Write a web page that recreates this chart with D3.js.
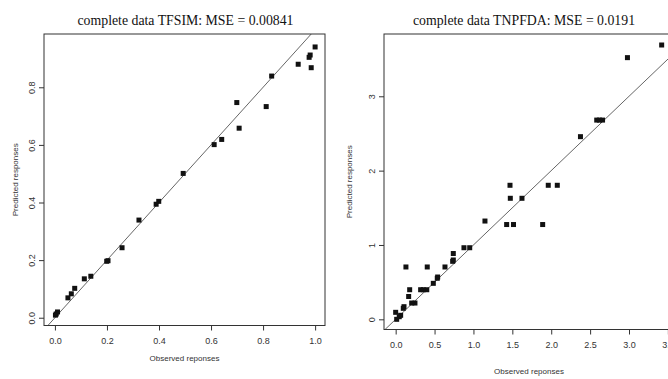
<!DOCTYPE html>
<html>
<head>
<meta charset="utf-8">
<script src="https://cdn.jsdelivr.net/npm/d3@7"></script>
<style>
  body { margin: 0; background: #fff; }
  svg { display: block; }
  .title { font-family: "Liberation Serif", "Times New Roman", serif; font-size: 13.8px; fill: #111; }
  .tick-label { font-family: "Liberation Sans", Arial, sans-serif; font-size: 9px; fill: #333; }
  .axis-title { font-family: "Liberation Sans", Arial, sans-serif; font-size: 8px; fill: #333; }
</style>
</head>
<body>
<svg id="container"></svg>
<script>
// Two observed vs predicted scatter plots, R base-graphics look

// Left panel: TFSIM
var tfsimObserved = [1.0, 0.981, 0.977, 0.985, 0.935, 0.833, 0.699, 0.812, 0.708, 0.641, 0.612, 0.493,
                     0.399, 0.389, 0.323, 0.258, 0.199, 0.204, 0.138, 0.113, 0.076, 0.063, 0.050,
                     0.010, 0.005, 0.002];
var tfsimPredicted = [0.940, 0.912, 0.904, 0.868, 0.880, 0.839, 0.747, 0.733, 0.658, 0.619, 0.601, 0.501,
                      0.404, 0.394, 0.339, 0.243, 0.196, 0.198, 0.144, 0.135, 0.102, 0.083, 0.069,
                      0.020, 0.013, 0.009];
var tfsimXTicks = [0, 0.2, 0.4, 0.6, 0.8, 1.0];
var tfsimYTicks = [0, 0.2, 0.4, 0.6, 0.8];

// Right panel: TNPFDA
var tnpfdaObserved = [3.42, 2.98, 2.585, 2.62, 2.66, 2.376, 1.47, 1.962, 2.078, 1.474, 1.624, 1.148,
                      1.427, 1.515, 1.89, 0.878, 0.952, 0.741, 0.741, 0.733, 0.634, 0.406, 0.132,
                      0.54, 0.535, 0.484, 0.40, 0.355, 0.321, 0.18, 0.167, 0.248, 0.206, 0.107,
                      0.098, 0.0, 0.064, 0.046, 0.013];
var tnpfdaPredicted = [3.69, 3.52, 2.68, 2.68, 2.68, 2.457, 1.803, 1.803, 1.803, 1.628, 1.628, 1.322,
                       1.275, 1.275, 1.275, 0.963, 0.963, 0.885, 0.798, 0.780, 0.704, 0.704, 0.704,
                       0.569, 0.552, 0.484, 0.398, 0.398, 0.398, 0.398, 0.307, 0.219, 0.219, 0.170,
                       0.148, 0.094, 0.054, 0.035, 0.0];
var tnpfdaXTicks = [0, 0.5, 1.0, 1.5, 2.0, 2.5, 3.0, 3.5];
var tnpfdaYTicks = [0, 1, 2, 3];

var width = 668, height = 379
  , pointSize = 5
  , tickLength = 5
  , container
  ;

container = d3.select("#container")
              .attr("width", width)
              .attr("height", height);

// Draw one panel. box = [left, top, right, bottom] in pixels, domains in data units
function drawPanel (opts) {
  var x = d3.scaleLinear().domain(opts.xDomain).range([opts.box[0], opts.box[2]])
    , y = d3.scaleLinear().domain(opts.yDomain).range([opts.box[3], opts.box[1]])
    , g = container.append("g")
    , clipId = "clip-" + opts.id
    ;

  g.append("clipPath").attr("id", clipId)
   .append("rect")
   .attr("x", opts.box[0]).attr("y", opts.box[1])
   .attr("width", opts.box[2] - opts.box[0])
   .attr("height", opts.box[3] - opts.box[1]);

  // Reference line y = x
  var lo = Math.min(opts.xDomain[0], opts.yDomain[0]) - 1
    , hi = Math.max(opts.xDomain[1], opts.yDomain[1]) + 1;
  g.append("line")
   .attr("clip-path", "url(#" + clipId + ")")
   .attr("x1", x(lo)).attr("y1", y(lo))
   .attr("x2", x(hi)).attr("y2", y(hi))
   .attr("stroke", "#666")
   .attr("stroke-width", 1);

  // Points (pch = 15)
  g.selectAll("rect.pt")
   .data(opts.observed)
   .enter()
   .append("rect")
   .attr("class", "pt")
   .attr("x", function (d) { return x(d) - pointSize / 2; })
   .attr("y", function (d, i) { return y(opts.predicted[i]) - pointSize / 2; })
   .attr("width", pointSize)
   .attr("height", pointSize)
   .attr("fill", "#111");

  // Box
  g.append("rect")
   .attr("x", opts.box[0]).attr("y", opts.box[1])
   .attr("width", opts.box[2] - opts.box[0])
   .attr("height", opts.box[3] - opts.box[1])
   .attr("fill", "none")
   .attr("stroke", "#333")
   .attr("stroke-width", 1);

  // Axes
  var xAxis = d3.axisBottom(x).tickValues(opts.xTicks).tickSize(tickLength).tickPadding(7)
                .tickFormat(opts.xFormat)
    , yAxis = d3.axisLeft(y).tickValues(opts.yTicks).tickSize(tickLength).tickPadding(7)
                .tickFormat(opts.yFormat);

  var gx = g.append("g").attr("transform", "translate(0," + opts.box[3] + ")").call(xAxis);
  gx.select(".domain").remove();
  gx.selectAll("line").attr("stroke", "#333");
  gx.selectAll("text").attr("class", "tick-label").attr("fill", null);

  var gy = g.append("g").attr("transform", "translate(" + opts.box[0] + ",0)").call(yAxis);
  gy.select(".domain").remove();
  gy.selectAll("line").attr("stroke", "#333");
  gy.selectAll("text")
    .attr("class", "tick-label")
    .attr("fill", null)
    .attr("x", null).attr("dy", null)
    .attr("text-anchor", "middle")
    .attr("transform", "translate(" + (-opts.yLabelOffset) + ",0) rotate(-90)")
    .attr("dominant-baseline", "central");

  // Titles
  g.append("text")
   .attr("class", "title")
   .attr("x", opts.titleX).attr("y", 25)
   .attr("text-anchor", "middle")
   .text(opts.title);

  g.append("text")
   .attr("class", "axis-title")
   .attr("x", opts.xTitleX).attr("y", opts.xTitleY)
   .attr("text-anchor", "middle")
   .text("Observed reponses");

  g.append("text")
   .attr("class", "axis-title")
   .attr("text-anchor", "middle")
   .attr("transform", "translate(" + opts.yTitleX + "," + (opts.box[1] + opts.box[3]) / 2 + ") rotate(-90)")
   .text("Predicted responses");
}

drawPanel({
  id: "tfsim",
  box: [44, 34, 325, 325.5],
  xDomain: [-0.042, 1.038],
  yDomain: [-0.027, 0.985],
  observed: tfsimObserved,
  predicted: tfsimPredicted,
  xTicks: tfsimXTicks,
  yTicks: tfsimYTicks,
  xFormat: d3.format(".1f"),
  yFormat: d3.format(".1f"),
  yLabelOffset: 12,
  title: "complete data TFSIM: MSE = 0.00841",
  titleX: 185.5,
  xTitleX: 184.5, xTitleY: 361,
  yTitleX: 18
});

drawPanel({
  id: "tnpfda",
  box: [384, 34, 699, 329.5],
  xDomain: [-0.15, 3.9],
  yDomain: [-0.137, 3.838],
  observed: tnpfdaObserved,
  predicted: tnpfdaPredicted,
  xTicks: tnpfdaXTicks,
  yTicks: tnpfdaYTicks,
  xFormat: d3.format(".1f"),
  yFormat: d3.format("d"),
  yLabelOffset: 12,
  title: "complete data TNPFDA: MSE = 0.0191",
  titleX: 524,
  xTitleX: 529, xTitleY: 374,
  yTitleX: 352
});
</script>
</body>
</html>
